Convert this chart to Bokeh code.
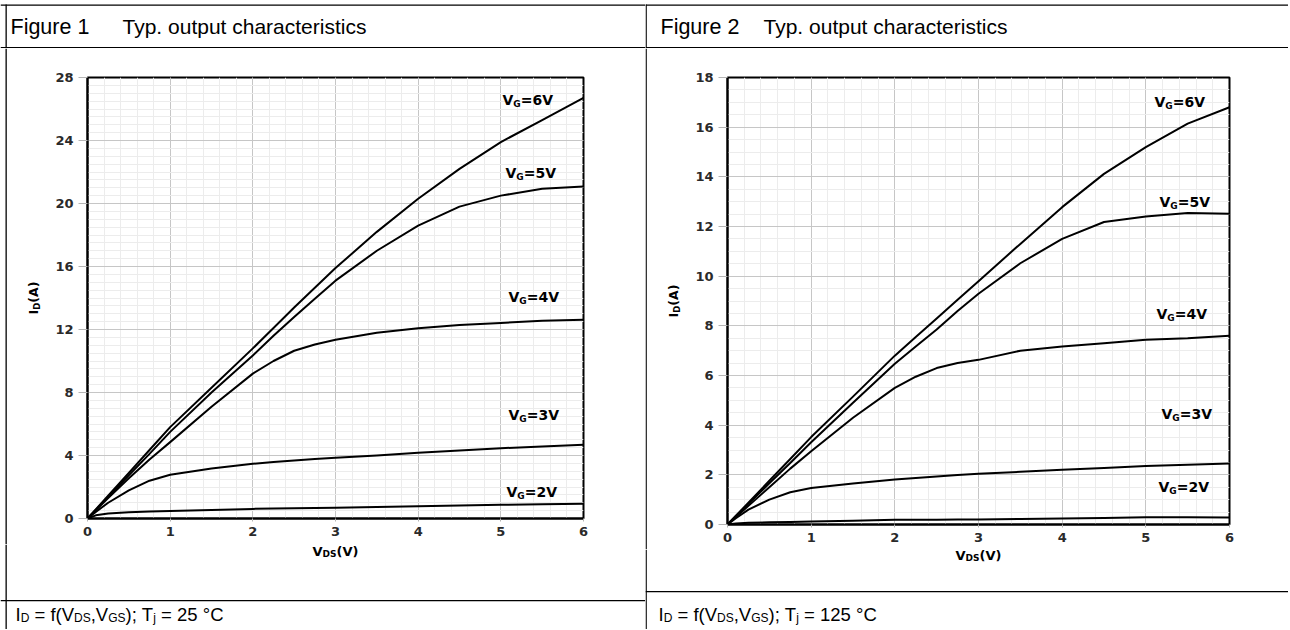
import math
from bokeh.plotting import figure
from bokeh.models import Label, BoxAnnotation, Range1d, FixedTicker
from bokeh.layouts import row, column
from bokeh.embed import file_html
from bokeh.resources import INLINE

# ---------------- data ----------------
vds = [0, 0.1, 0.25, 0.5, 0.75, 1, 1.5, 2, 2.25, 2.5, 2.75, 3, 3.5, 4, 4.5, 5, 5.5, 6]
gate_voltages = [6, 5, 4, 3, 2]

# Tj = 25 degC
id_25_vg6 = [0, 0.58, 1.45, 2.9, 4.35, 5.8, 8.3, 10.8, 12.1, 13.4, 14.65, 15.9, 18.2, 20.3, 22.2, 23.9, 25.3, 26.7]
id_25_vg5 = [0, 0.55, 1.38, 2.75, 4.1, 5.5, 8.0, 10.35, 11.6, 12.8, 13.95, 15.1, 17.0, 18.6, 19.8, 20.5, 20.93, 21.08]
id_25_vg4 = [0, 0.52, 1.3, 2.55, 3.75, 4.85, 7.1, 9.2, 10.0, 10.65, 11.05, 11.35, 11.8, 12.08, 12.28, 12.42, 12.55, 12.62]
id_25_vg3 = [0, 0.42, 1.0, 1.78, 2.4, 2.78, 3.18, 3.47, 3.58, 3.68, 3.77, 3.85, 4.0, 4.17, 4.32, 4.46, 4.57, 4.68]
id_25_vg2 = [0, 0.2, 0.32, 0.4, 0.44, 0.47, 0.54, 0.61, 0.63, 0.65, 0.67, 0.68, 0.73, 0.78, 0.83, 0.87, 0.9, 0.93]

# Tj = 125 degC
id_125_vg6 = [0, 0.35, 0.88, 1.76, 2.64, 3.52, 5.15, 6.8, 7.55, 8.3, 9.05, 9.8, 11.3, 12.78, 14.12, 15.2, 16.14, 16.8]
id_125_vg5 = [0, 0.33, 0.83, 1.66, 2.48, 3.31, 4.9, 6.47, 7.17, 7.85, 8.6, 9.29, 10.52, 11.5, 12.18, 12.4, 12.54, 12.51]
id_125_vg4 = [0, 0.3, 0.75, 1.5, 2.25, 2.95, 4.3, 5.5, 5.95, 6.3, 6.5, 6.63, 7.0, 7.17, 7.3, 7.44, 7.5, 7.6]
id_125_vg3 = [0, 0.25, 0.6, 1.0, 1.3, 1.47, 1.65, 1.81, 1.87, 1.93, 1.99, 2.04, 2.12, 2.2, 2.28, 2.36, 2.41, 2.46]
id_125_vg2 = [0, 0.04, 0.07, 0.09, 0.1, 0.12, 0.15, 0.19, 0.19, 0.19, 0.2, 0.2, 0.22, 0.24, 0.26, 0.29, 0.29, 0.28]

x_ticks = [0, 1, 2, 3, 4, 5, 6]
y_ticks_25 = [0, 4, 8, 12, 16, 20, 24, 28]
y_ticks_125 = [0, 2, 4, 6, 8, 10, 12, 14, 16, 18]

figure_numbers = ["Figure 1", "Figure 2"]
chart_title = "Typ. output characteristics"
junction_temps = ["25", "125"]

# ---------------- layout / style ----------------
TOTAL_H = 629
TITLE_BOTTOM = 48
K_BASE = 0.41   # correction of the label baseline placement (fraction of font size)

DJ = {"V": 774, "G": 821, "=": 838, "I": 372, "D": 830, "S": 720, "A": 774,
      "(": 457, ")": 457, "0": 696, "1": 696, "2": 696, "3": 696, "4": 696,
      "5": 696, "6": 696}
AR = {" ": 278, "=": 584, "f": 278, "(": 333, ")": 333, "V": 667, "D": 722,
      "S": 667, "G": 778, ",": 278, ";": 278, "T": 611, "j": 222, "1": 556,
      "2": 556, "5": 556, "°": 400, "C": 722, "I": 278}


def tw(text, size, metrics):
    return sum(metrics.get(c, 600) for c in text) * size / 1000.0


def seg(p, conv, X, Y, text, size, font, bold, angle=0.0):
    if angle:
        X -= K_BASE * size
    else:
        Y -= K_BASE * size
    x, y = conv(X, Y)
    p.add_layout(Label(x=x, y=y, text=text, text_font=font,
                       text_font_size=f"{size}px",
                       text_font_style="bold" if bold else "normal",
                       text_color="black", text_align="left",
                       text_baseline="alphabetic", angle=angle))


def rich(p, conv, X, Y, parts, font, bold, metrics, sub_shift, vertical=False):
    pos = 0.0
    for text, size, is_sub in parts:
        d = sub_shift if is_sub else 0.0
        lead = len(text) - len(text.lstrip(" "))
        pos += tw(" " * lead, size, metrics)
        core = text.strip(" ")
        if core:
            if vertical:
                seg(p, conv, X + d, Y - pos, core, size, font, bold, angle=math.pi / 2)
            else:
                seg(p, conv, X + pos, Y + d, core, size, font, bold)
        pos += tw(text.lstrip(" "), size, metrics)
    return pos


def box(p, conv, x0, x1, y0, y1):
    a = conv(x0, y1)
    b = conv(x1, y0)
    p.add_layout(BoxAnnotation(left=a[0], right=b[0], bottom=a[1], top=b[1],
                               fill_color="black", fill_alpha=1.0,
                               line_alpha=0.0, level="overlay"))


def deco_fig(px0, px1, py0, py1):
    p = figure(width=int(px1 - px0), height=int(py1 - py0), output_backend="svg",
               toolbar_location=None, x_range=Range1d(px0, px1),
               y_range=Range1d(py1, py0), x_axis_location=None, y_axis_location=None,
               min_border=0, min_border_left=0, min_border_right=0,
               min_border_top=0, min_border_bottom=0, frame_align=False)
    p.title.visible = False
    p.grid.visible = False
    p.outline_line_color = None
    p.background_fill_color = "white"
    p.border_fill_color = "white"
    return p


def ident(X, Y):
    return (X, Y)


def build_column(x0, x1, ylab_w, chart_bottom, frame, ymax, yticks, curves,
                 label_pos, fig_title, temp, caption_line_y, title_x, caption_x,
                 ylab_center, xlab_center):
    fl, fr, ft, fb = frame
    bw = 1.3
    vline_x = x0 + 5 if x0 == 0 else x0

    # ---- title cell ----
    t = deco_fig(x0, x1, 0, TITLE_BOTTOM)
    box(t, ident, x0, x1, 4, 4 + bw)
    box(t, ident, x0, x1, 46.4, 46.4 + bw)
    box(t, ident, vline_x, vline_x + bw, 4, TITLE_BOTTOM)
    seg(t, ident, title_x[0], 35, fig_title, 21.5, "Liberation Sans", False)
    seg(t, ident, title_x[1], 35, chart_title, 21, "Liberation Sans", False)

    # ---- y-label strip ----
    yl = deco_fig(x0, x0 + ylab_w, TITLE_BOTTOM, chart_bottom)
    box(yl, ident, vline_x, vline_x + bw, TITLE_BOTTOM, chart_bottom)
    ylab = [("I", 12.5, False), ("D", 8.5, True), ("(A)", 12.5, False)]
    L = sum(tw(s, z, DJ) for s, z, _ in ylab)
    rich(yl, ident, ylab_center[0] + 4, ylab_center[1] + L / 2, ylab,
         "DejaVu Sans", True, DJ, 2.0, vertical=True)

    # ---- chart ----
    cx0 = x0 + ylab_w
    p = figure(width=int(x1 - cx0), height=int(chart_bottom - TITLE_BOTTOM),
               output_backend="svg", toolbar_location=None,
               x_range=Range1d(0, 6), y_range=Range1d(0, ymax),
               min_border_left=int(fl - cx0), min_border_right=int(x1 - fr),
               min_border_top=int(ft - TITLE_BOTTOM),
               min_border_bottom=int(chart_bottom - fb), frame_align=False)
    p.title.visible = False
    p.background_fill_color = "white"
    p.border_fill_color = "white"
    p.outline_line_color = "black"
    p.outline_line_width = 2

    p.xaxis.ticker = FixedTicker(ticks=x_ticks, minor_ticks=[i * 0.2 for i in range(31)])
    p.yaxis.ticker = FixedTicker(ticks=yticks,
                                 minor_ticks=[i * 0.5 for i in range(int(ymax * 2) + 1)])
    for ax, tick_out, standoff in ((p.xaxis, 3, 5), (p.yaxis, 9, 5)):
        ax.axis_line_color = "black"
        ax.axis_line_width = 2
        ax.major_tick_line_color = "#b4b4b4"
        ax.major_tick_out = tick_out
        ax.major_tick_in = 0
        ax.minor_tick_out = 0
        ax.minor_tick_in = 0
        ax.major_label_standoff = standoff
        ax.major_label_text_font = "DejaVu Sans"
        ax.major_label_text_font_style = "bold"
        ax.major_label_text_font_size = "13px"
        ax.major_label_text_color = "#2a2a2a"
    for g in (p.xgrid, p.ygrid):
        g.grid_line_color = "#c6c6c6"
        g.grid_line_width = 1
        g.minor_grid_line_color = "#ececec"
        g.minor_grid_line_width = 1

    for vals in curves:
        p.line(vds, vals, line_color="black", line_width=2, line_join="round")

    def conv(X, Y):
        return ((X - fl) / (fr - fl) * 6.0, (fb - Y) / (fb - ft) * ymax)

    for vg, (X, Y) in zip(gate_voltages, label_pos):
        parts = [("V", 14, False), ("G", 9, True), (f"={vg}V", 14, False)]
        rich(p, conv, X, Y, parts, "DejaVu Sans", True, DJ, 1.5)

    # ---- bottom cell: x label + caption ----
    b = deco_fig(x0, x1, chart_bottom, TOTAL_H)
    box(b, ident, vline_x, vline_x + bw, chart_bottom, TOTAL_H)
    box(b, ident, x0, x1, caption_line_y, caption_line_y + bw)
    xlab = [("V", 13, False), ("DS", 9, True), ("(V)", 13, False)]
    L = sum(tw(s, z, DJ) for s, z, _ in xlab)
    rich(b, ident, xlab_center[0] - L / 2, xlab_center[1], xlab, "DejaVu Sans", True, DJ, 1.5)
    M, Sb = 18.5, 12
    cap = [("I", M, False), ("D", Sb, True), (" = f(V", M, False), ("DS", Sb, True),
           (",V", M, False), ("GS", Sb, True), ("); T", M, False), ("j", Sb, True),
           (f" = {temp} °C", M, False)]
    rich(b, ident, caption_x, 622, cap, "Liberation Sans", False, AR, 0.0)

    return column(t, row(yl, p, spacing=0), b, spacing=0)


left = build_column(
    x0=0, x1=645, ylab_w=48, chart_bottom=544, frame=(87, 583, 77, 518), ymax=28,
    yticks=y_ticks_25, curves=[id_25_vg6, id_25_vg5, id_25_vg4, id_25_vg3, id_25_vg2],
    label_pos=[(502, 105.5), (505, 178.5), (508, 302.5), (508, 420.5), (506, 497.5)],
    fig_title=figure_numbers[0], temp=junction_temps[0], caption_line_y=599.5,
    title_x=(10, 122), caption_x=15, ylab_center=(34, 297.5), xlab_center=(335, 556))

right = build_column(
    x0=645, x1=1288, ylab_w=42, chart_bottom=549, frame=(727, 1229, 77, 524), ymax=18,
    yticks=y_ticks_125, curves=[id_125_vg6, id_125_vg5, id_125_vg4, id_125_vg3, id_125_vg2],
    label_pos=[(1154, 107.5), (1159, 207.5), (1156, 319.5), (1161, 419.5), (1158, 492.5)],
    fig_title=figure_numbers[1], temp=junction_temps[1], caption_line_y=590.5,
    title_x=(660, 763), caption_x=658, ylab_center=(674, 300.5), xlab_center=(978, 560))

layout = row(left, right, spacing=0)
open("out.html", "w").write(file_html(layout, INLINE))
